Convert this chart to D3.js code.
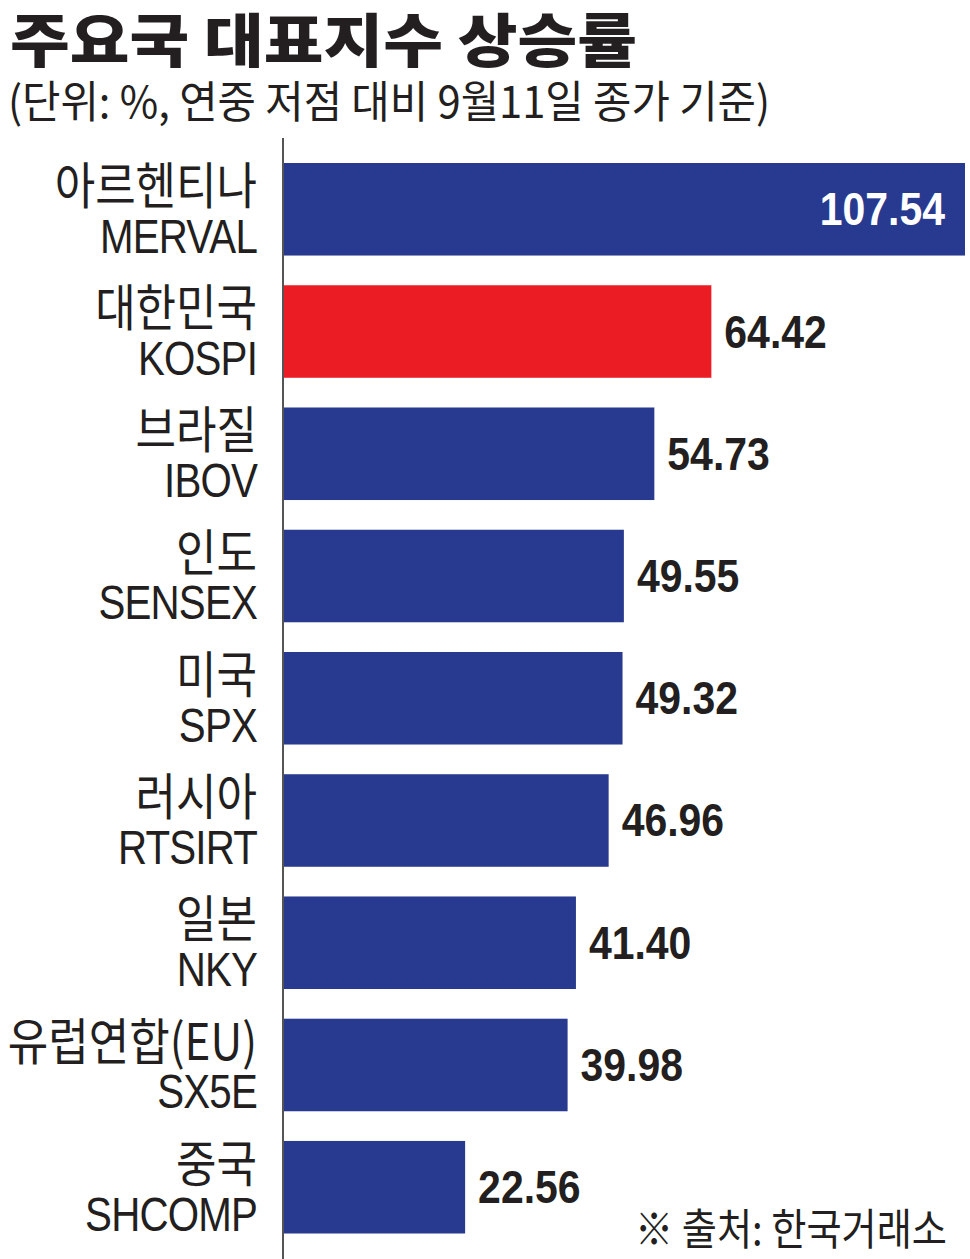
<!DOCTYPE html>
<html><head><meta charset="utf-8">
<script src="https://cdn.jsdelivr.net/npm/d3@7"></script>
<style>html,body{margin:0;padding:0;background:#fff;}</style>
</head><body>
<script>
const names = ["아르헨티나","대한민국","브라질","인도","미국","러시아","일본","유럽연합(EU)","중국"];
const codes = ["MERVAL","KOSPI","IBOV","SENSEX","SPX","RTSIRT","NKY","SX5E","SHCOMP"];
const values = [107.54,64.42,54.73,49.55,49.32,46.96,41.40,39.98,22.56];
const highlight = "KOSPI";
const title = "주요국 대표지수 상승률";
const subtitle = "(단위: %, 연중 저점 대비 9월11일 종가 기준)";
const source = "※ 출처: 한국거래소";

const W = 970, H = 1259;
const ink = "#231f20", blue = "#283a8f", red = "#ec1c24";
const kr = "'Noto Sans CJK KR', 'Noto Sans', sans-serif";
const en = "'Liberation Sans', Arial, sans-serif";

const svg = d3.select("body").append("svg").attr("width", W).attr("height", H);

const x = d3.scaleLinear().domain([-8.4, 107.54]).range([283, 965]);
const y = d3.scaleBand().domain(codes).range([163, 1233.5]).paddingInner(0.243).paddingOuter(0);

svg.append("text").text(title)
  .attr("x", 10).attr("y", 62)
  .attr("font-family", kr).attr("font-weight", 900).attr("font-size", 58)
  .attr("fill", ink).attr("textLength", 627).attr("lengthAdjust", "spacingAndGlyphs");

svg.append("text").text(subtitle)
  .attr("x", 8).attr("y", 118)
  .attr("font-family", kr).attr("font-size", 44)
  .attr("fill", ink).attr("textLength", 762).attr("lengthAdjust", "spacingAndGlyphs");

// bars
svg.selectAll("rect.bar").data(codes).join("rect")
  .attr("class", "bar")
  .attr("x", x(x.domain()[0]))
  .attr("y", d => y(d))
  .attr("width", (d, i) => x(values[i]) - x(x.domain()[0]))
  .attr("height", y.bandwidth())
  .attr("fill", d => d === highlight ? red : blue);

// axis line
svg.append("line")
  .attr("x1", x(x.domain()[0])).attr("x2", x(x.domain()[0]))
  .attr("y1", 138).attr("y2", H)
  .attr("stroke", "#555").attr("stroke-width", 2);

function condensed(g, txt, tx, ty, sx, opts) {
  const t = g.append("text").text(txt)
    .attr("transform", `translate(${tx},${ty}) scale(${sx},1)`)
    .attr("text-anchor", opts.anchor || "start")
    .attr("font-family", opts.family)
    .attr("font-size", opts.size)
    .attr("font-weight", opts.weight || 400)
    .attr("fill", opts.fill || ink);
  if (opts.ls) t.attr("letter-spacing", opts.ls);
  return t;
}

const g = svg.append("g");
codes.forEach((c, i) => {
  const top = y(c), bot = top + y.bandwidth();
  condensed(g, names[i], 257, top + 41, 0.88, {anchor: "end", family: kr, size: 50});
  condensed(g, codes[i], 257, bot - 3, 0.84, {anchor: "end", family: en, size: 48, ls: -1});
  const v = values[i];
  const inside = x(v) > 900;
  const lx = inside ? x(v) - 20 : x(v) + 13;
  condensed(g, d3.format(".2f")(v), lx, top + y.bandwidth() / 2 + 16, 0.89,
    {anchor: inside ? "end" : "start", family: en, size: 46, weight: 700, fill: inside ? "#fff" : ink});
});

svg.append("text").text(source)
  .attr("x", 635).attr("y", 1245)
  .attr("font-family", kr).attr("font-size", 43)
  .attr("fill", ink).attr("textLength", 312).attr("lengthAdjust", "spacingAndGlyphs");
</script>
</body></html>
